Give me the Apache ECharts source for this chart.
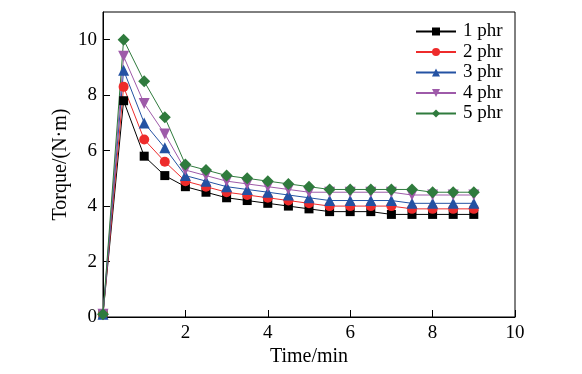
<!DOCTYPE html>
<html>
<head>
<meta charset="utf-8">
<script src="https://cdn.jsdelivr.net/npm/echarts@6/dist/echarts.min.js"></script>
<style>html,body{margin:0;padding:0;background:#fff}#c{width:582px;height:374px}</style>
</head>
<body>
<div id="c"></div>
<script>
const times = [0, 0.5, 1, 1.5, 2, 2.5, 3, 3.5, 4, 4.5, 5, 5.5, 6, 6.5, 7, 7.5, 8, 8.5, 9];
const seriesNames = ['1 phr', '2 phr', '3 phr', '4 phr', '5 phr'];
const phr1 = [0.1, 7.8, 5.8, 5.1, 4.7, 4.5, 4.3, 4.2, 4.1, 4.0, 3.9, 3.8, 3.8, 3.8, 3.7, 3.7, 3.7, 3.7, 3.7];
const phr2 = [0.1, 8.3, 6.4, 5.6, 4.9, 4.7, 4.5, 4.4, 4.3, 4.2, 4.1, 4.0, 4.0, 4.0, 4.0, 3.9, 3.9, 3.9, 3.9];
const phr3 = [0.1, 8.9, 7.0, 6.1, 5.1, 4.9, 4.7, 4.6, 4.5, 4.4, 4.3, 4.2, 4.2, 4.2, 4.2, 4.1, 4.1, 4.1, 4.1];
const phr4 = [0.1, 9.4, 7.7, 6.6, 5.3, 5.1, 4.9, 4.8, 4.7, 4.6, 4.5, 4.5, 4.5, 4.5, 4.5, 4.4, 4.4, 4.4, 4.4];
const phr5 = [0.1, 10.0, 8.5, 7.2, 5.5, 5.3, 5.1, 5.0, 4.9, 4.8, 4.7, 4.6, 4.6, 4.6, 4.6, 4.6, 4.5, 4.5, 4.5];
const xTicks = [2, 4, 6, 8, 10];
const yTicks = [0, 2, 4, 6, 8, 10];

const allValues = [phr1, phr2, phr3, phr4, phr5];
const colors = ['#000000', '#ee2b2b', '#2452a3', '#9e5aa9', '#2f7b3d'];
const symbols = ['rect', 'circle', 'triangle', 'path://M0,0L10,0L5,10Z', 'diamond'];
const sizes = [9, 10, 11, 11, 12];

const font = 'Liberation Serif, Times New Roman, serif';
const fs = 19;
const chart = echarts.init(document.getElementById('c'));
chart.setOption({
  animation: false,
  backgroundColor: '#fff',
  grid: { left: 103, right: 67, top: 12, bottom: 57, show: true, borderColor: '#000', borderWidth: 1, backgroundColor: 'transparent' },
  legend: {
    orient: 'vertical', left: 415, top: 22, padding: 0,
    itemWidth: 40, itemHeight: 10, itemGap: 1.5,
    textStyle: { fontFamily: font, fontSize: fs, color: '#000', padding: [0, 0, 0, 2] },
    data: seriesNames
  },
  xAxis: {
    type: 'value', min: 0, max: 10, interval: 2,
    name: 'Time/min', nameLocation: 'middle', nameGap: 30, nameMoveOverlap: false,
    nameTextStyle: { fontFamily: font, fontSize: 20, color: '#000' },
    axisLine: { lineStyle: { color: '#000', width: 1 } },
    axisTick: { inside: true, length: 7, lineStyle: { color: '#000' }, customValues: xTicks },
    axisLabel: { fontFamily: font, fontSize: fs, color: '#000', margin: 7, customValues: xTicks },
    splitLine: { show: false }
  },
  yAxis: {
    type: 'value', min: 0, max: 11, interval: 2,
    name: 'Torque/(N·m)', nameLocation: 'middle', nameGap: 32, nameMoveOverlap: false,
    nameTextStyle: { fontFamily: font, fontSize: 20, color: '#000' },
    axisLine: { show: true, lineStyle: { color: '#000', width: 1 } },
    axisTick: { show: true, inside: true, length: 7, lineStyle: { color: '#000' }, customValues: yTicks },
    axisLabel: { fontFamily: font, fontSize: fs, color: '#000', margin: 6, customValues: yTicks },
    splitLine: { show: false }
  },
  series: seriesNames.map((n, i) => ({
    name: n, type: 'line',
    data: times.map((t, j) => [t, allValues[i][j]]),
    symbol: symbols[i], symbolSize: sizes[i], showAllSymbol: true,
    clip: false,
    itemStyle: { color: colors[i] },
    lineStyle: { color: colors[i], width: 1 }
  }))
});
</script>
</body>
</html>
